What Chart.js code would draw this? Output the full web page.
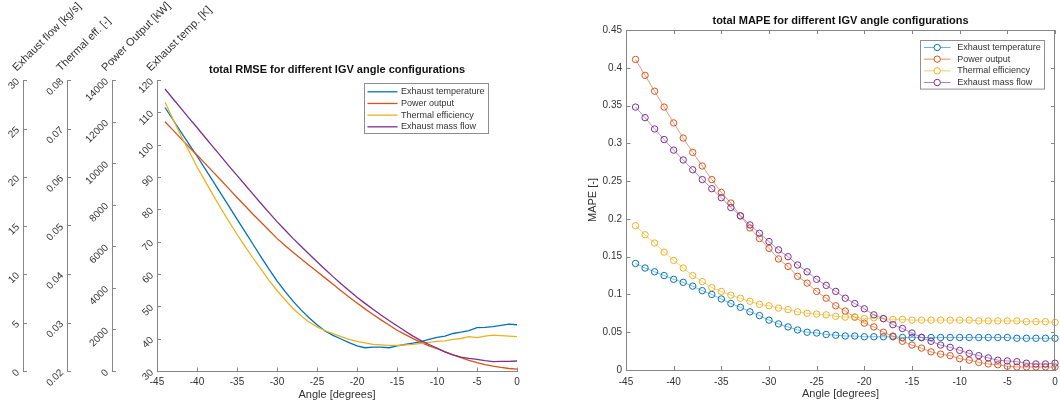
<!DOCTYPE html>
<html>
<head>
<meta charset="utf-8">
<title>IGV angle configurations - RMSE and MAPE</title>
<script src="https://cdn.jsdelivr.net/npm/chart.js@4.4.1/dist/chart.umd.min.js"></script>
<style>
  html, body { margin: 0; padding: 0; background: #ffffff; }
  #wrap { position: relative; width: 1060px; height: 405px; overflow: hidden; }
  #leftPanel { position: absolute; left: 0; top: 0; width: 540px; height: 405px; }
  #rightPanel { position: absolute; left: 540px; top: 0; width: 520px; height: 405px; }
</style>
</head>
<body>
<div id="wrap">
  <div id="leftPanel"><canvas id="rmseChart"></canvas></div>
  <div id="rightPanel"><canvas id="mapeChart"></canvas></div>
</div>
<script>
// IGV angle settings (degrees)
const angles = [-44, -43, -42, -41, -40, -39, -38, -37, -36, -35, -34, -33, -32, -31, -30,
                -29, -28, -27, -26, -25, -24, -23, -22, -21, -20, -19, -18, -17, -16, -15,
                -14, -13, -12, -11, -10, -9, -8, -7, -6, -5, -4, -3, -2, -1, 0];

const seriesNames = ['Exhaust temperature', 'Power output', 'Thermal efficiency', 'Exhaust mass flow'];
const seriesColors = ['#0072BD', '#D95319', '#EDB120', '#7E2F8E'];

// total RMSE, each in its own unit
const rmseExhaustTemp = [111.5, 107.7, 103.9, 100.2, 96.5, 92.6, 88.7, 84.8, 80.9, 77.0, 73.1, 69.2, 65.3, 61.5, 57.9,
                         54.6, 51.6, 48.9, 46.5, 44.3, 42.4, 41.0, 39.9, 38.8, 37.8, 37.2, 37.4, 37.4, 37.2, 37.8,
                         38.2, 38.6, 39.1, 39.8, 40.4, 40.8, 41.6, 42.0, 42.5, 43.4, 43.5, 43.7, 44.1, 44.5, 44.3];   // K
const rmsePower = [11990, 11590, 11180, 10780, 10390, 9990, 9580, 9180, 8760, 8350, 7950, 7540, 7160, 6770, 6380,
                   6040, 5710, 5400, 5090, 4790, 4480, 4170, 3860, 3560, 3270, 2990, 2720, 2460, 2210, 1960,
                   1760, 1560, 1380, 1210, 1070, 920, 780, 640, 510, 400, 310, 230, 170, 120, 90];                  // kW
const rmseThermalEff = [0.0754, 0.0719, 0.0685, 0.0653, 0.0621, 0.0592, 0.0563, 0.0535, 0.0508, 0.0482, 0.0457, 0.0433, 0.0410, 0.0387, 0.0366,
                        0.0347, 0.0329, 0.0314, 0.0301, 0.0291, 0.0283, 0.0277, 0.0271, 0.0265, 0.0261, 0.0258, 0.0255, 0.0254, 0.0253, 0.0253,
                        0.0254, 0.0255, 0.0257, 0.0259, 0.0261, 0.0262, 0.0265, 0.0267, 0.0271, 0.0269, 0.0272, 0.0274, 0.0273, 0.0272, 0.0271]; // -
const rmseMassFlow = [29.07, 28.07, 27.07, 26.07, 25.10, 24.10, 23.10, 22.13, 21.13, 20.17, 19.20, 18.23, 17.27, 16.33, 15.40,
                      14.53, 13.67, 12.87, 12.07, 11.27, 10.50, 9.73, 9.00, 8.30, 7.60, 6.97, 6.37, 5.77, 5.20, 4.67,
                      4.13, 3.60, 3.13, 2.73, 2.37, 1.97, 1.67, 1.43, 1.30, 1.20, 1.07, 0.97, 1.00, 1.00, 1.03];     // kg/s

// total MAPE
const mapeExhaustTemp = [0.141, 0.135, 0.130, 0.125, 0.120, 0.116, 0.111, 0.105, 0.100, 0.094, 0.088, 0.083, 0.077, 0.072, 0.066,
                         0.061, 0.057, 0.053, 0.050, 0.049, 0.047, 0.046, 0.045, 0.045, 0.044, 0.044, 0.044, 0.044, 0.043, 0.043,
                         0.043, 0.043, 0.043, 0.043, 0.043, 0.043, 0.043, 0.043, 0.043, 0.043, 0.042, 0.042, 0.042, 0.042, 0.042];
const mapePower = [0.411, 0.390, 0.369, 0.348, 0.327, 0.307, 0.288, 0.270, 0.252, 0.235, 0.221, 0.204, 0.188, 0.174, 0.161,
                   0.147, 0.137, 0.124, 0.115, 0.104, 0.095, 0.085, 0.078, 0.070, 0.062, 0.057, 0.050, 0.045, 0.038, 0.033,
                   0.029, 0.024, 0.021, 0.019, 0.015, 0.013, 0.010, 0.008, 0.007, 0.005, 0.004, 0.004, 0.004, 0.004, 0.004];
const mapeThermalEff = [0.191, 0.179, 0.168, 0.156, 0.145, 0.135, 0.125, 0.117, 0.109, 0.104, 0.099, 0.095, 0.091, 0.087, 0.085,
                        0.082, 0.080, 0.077, 0.075, 0.074, 0.073, 0.071, 0.070, 0.070, 0.068, 0.069, 0.068, 0.067, 0.067, 0.066,
                        0.066, 0.066, 0.066, 0.066, 0.066, 0.066, 0.065, 0.065, 0.065, 0.065, 0.065, 0.064, 0.064, 0.064, 0.063];
const mapeMassFlow = [0.348, 0.334, 0.319, 0.305, 0.291, 0.278, 0.265, 0.252, 0.240, 0.228, 0.215, 0.204, 0.192, 0.181, 0.170,
                      0.159, 0.150, 0.139, 0.130, 0.120, 0.112, 0.104, 0.095, 0.088, 0.081, 0.073, 0.068, 0.060, 0.055, 0.049,
                      0.043, 0.038, 0.033, 0.030, 0.026, 0.022, 0.019, 0.016, 0.013, 0.012, 0.011, 0.009, 0.008, 0.008, 0.009];

// tick values
const angleTicks = [-45, -40, -35, -30, -25, -20, -15, -10, -5, 0];
const tempTicks = [30, 40, 50, 60, 70, 80, 90, 100, 110, 120];
const powerTicks = [0, 2000, 4000, 6000, 8000, 10000, 12000, 14000];
const effTicks = [0.02, 0.03, 0.04, 0.05, 0.06, 0.07, 0.08];
const flowTicks = [0, 5, 10, 15, 20, 25, 30];
const mapeTicks = [0, 0.05, 0.1, 0.15, 0.2, 0.25, 0.3, 0.35, 0.4, 0.45];

const FONT = '"Liberation Sans", Helvetica, Arial, sans-serif';
const TEXT = '#333333';
const AXIS = '#868686';

// short tick marks pointing into the plot, plus optional full frame
const inwardTicks = {
  id: 'inwardTicks',
  afterDatasetsDraw(chart, args, o) {
    const { ctx, chartArea: a } = chart;
    const L = o.length;
    ctx.save();
    ctx.strokeStyle = AXIS;
    ctx.lineWidth = 1;
    ctx.beginPath();
    Object.values(chart.scales).forEach(s => {
      s.ticks.forEach(t => {
        const p = Math.round(s.getPixelForValue(t.value)) + 0.5;
        if (s.isHorizontal()) {
          ctx.moveTo(p, a.bottom); ctx.lineTo(p, a.bottom - L);
          if (o.frame) { ctx.moveTo(p, a.top); ctx.lineTo(p, a.top + L); }
        } else {
          const x = Math.round(s.right) + 0.5;
          ctx.moveTo(x, p); ctx.lineTo(x + L, p);
          if (o.frame) { ctx.moveTo(a.right, p); ctx.lineTo(a.right - L, p); }
        }
      });
    });
    if (o.frame) {
      const t = Math.round(a.top) + 0.5, r = Math.round(a.right) - 0.5;
      ctx.moveTo(a.left, t); ctx.lineTo(r, t); ctx.lineTo(r, a.bottom);
    }
    ctx.stroke();
    ctx.restore();
  }
};

// boxed legend placed in the upper right of the plot area
const panelLegend = {
  id: 'panelLegend',
  afterDraw(chart, args, o) {
    const { ctx, chartArea: a } = chart;
    const x0 = Math.round(a.right - o.right - o.width) + 0.5;
    const y0 = Math.round(a.top + o.top) + 0.5;
    ctx.save();
    ctx.fillStyle = '#ffffff';
    ctx.fillRect(x0, y0, o.width, o.height);
    ctx.strokeStyle = '#8f8f8f';
    ctx.lineWidth = 1;
    ctx.strokeRect(x0, y0, o.width, o.height);
    ctx.font = '9px ' + FONT;
    ctx.textBaseline = 'middle';
    ctx.textAlign = 'left';
    chart.data.datasets.forEach((ds, i) => {
      const y = y0 + o.firstRow + i * o.rowGap;
      ctx.strokeStyle = ds.borderColor;
      ctx.lineWidth = o.lineWidth;
      ctx.beginPath();
      ctx.moveTo(x0 + o.lineFrom, y);
      ctx.lineTo(x0 + o.lineTo, y);
      ctx.stroke();
      if (o.marker) {
        const cx = x0 + (o.lineFrom + o.lineTo) / 2;
        ctx.fillStyle = '#ffffff';
        ctx.beginPath();
        ctx.arc(cx, y, 3.2, 0, Math.PI * 2);
        ctx.fill();
        ctx.strokeStyle = ds.pointBorderColor;
        ctx.lineWidth = 1;
        ctx.stroke();
      }
      ctx.fillStyle = TEXT;
      ctx.fillText(ds.label, x0 + o.textX, y);
    });
    ctx.restore();
  }
};

// slanted names above each stacked y axis
const slantedAxisNames = {
  id: 'slantedAxisNames',
  afterDraw(chart) {
    const { ctx, chartArea: a } = chart;
    ctx.save();
    ctx.font = '11px ' + FONT;
    ctx.fillStyle = TEXT;
    ctx.textAlign = 'left';
    ctx.textBaseline = 'alphabetic';
    Object.values(chart.scales).forEach(s => {
      if (s.isHorizontal()) return;
      ctx.save();
      ctx.translate(s.right - 6.3, a.top - 8.3);
      ctx.rotate(-Math.PI / 4);
      ctx.fillText(s.options.title.text, 0, 0);
      ctx.restore();
    });
    ctx.restore();
  }
};

function pts(values) {
  return angles.map((a, i) => ({ x: a, y: values[i] }));
}

function stackedAxis(weight, width, min, max, tickVals, fmt, name) {
  return {
    type: 'linear', position: 'left', weight, min, max,
    afterBuildTicks: s => { s.ticks = tickVals.map(v => ({ value: v })); },
    afterFit: s => { s.width = width; },
    grid: { drawOnChartArea: false, drawTicks: false },
    border: { display: true, color: AXIS, width: 1 },
    ticks: { minRotation: 45, maxRotation: 45, padding: 5, color: TEXT,
             font: { family: FONT, size: 10 }, callback: fmt },
    title: { display: false, text: name }
  };
}

function angleAxis(height, labelPad, titlePad) {
  return {
    type: 'linear', position: 'bottom', min: -45, max: 0,
    afterBuildTicks: s => { s.ticks = angleTicks.map(v => ({ value: v })); },
    afterFit: s => { s.height = height; s.paddingLeft = 0; s.paddingRight = 0; },
    grid: { drawOnChartArea: false, drawTicks: false },
    border: { display: true, color: AXIS, width: 1 },
    ticks: { minRotation: 0, maxRotation: 0, padding: labelPad, color: TEXT,
             font: { family: FONT, size: 10 }, callback: v => String(v) },
    title: { display: true, text: 'Angle [degrees]', color: TEXT,
             font: { family: FONT, size: 11 }, padding: { top: 0, bottom: titlePad } }
  };
}

Chart.defaults.font.family = FONT;

// ---- total RMSE: one line per quantity, each on its own stacked axis ----
const rmseSeries = [rmseExhaustTemp, rmsePower, rmseThermalEff, rmseMassFlow];
const rmseAxisIds = ['yTemp', 'yPower', 'yEff', 'yFlow'];

new Chart(document.getElementById('rmseChart'), {
  type: 'line',
  data: {
    datasets: rmseSeries.map((vals, i) => ({
      label: seriesNames[i],
      data: pts(vals),
      yAxisID: rmseAxisIds[i],
      borderColor: seriesColors[i],
      borderWidth: 1.3,
      pointRadius: 0,
      tension: 0,
      order: 3 - i
    }))
  },
  options: {
    responsive: true, maintainAspectRatio: false, animation: false, devicePixelRatio: 1,
    layout: { padding: { left: 0, right: 23, top: 0, bottom: 0 } },
    plugins: {
      legend: { display: false },
      tooltip: { enabled: false },
      title: { display: true, text: 'total RMSE for different IGV angle configurations',
               fullSize: false, color: '#111111',
               font: { family: FONT, size: 11, weight: 'bold' },
               padding: { top: 63.8, bottom: 3 } },
      inwardTicks: { length: 3.5, frame: false },
      panelLegend: { right: 29, top: 3, width: 124, height: 50, firstRow: 8.3, rowGap: 11.67,
                     lineFrom: 3, lineTo: 33, textX: 36.5, lineWidth: 1.3, marker: false }
    },
    scales: {
      x: angleAxis(34, 5, 3.4),
      yTemp: stackedAxis(0, 45, 30, 120, tempTicks, v => String(v), 'Exhaust temp. [K]'),
      yPower: stackedAxis(1, 45, 0, 14000, powerTicks, v => String(v), 'Power Output [kW]'),
      yEff: stackedAxis(2, 44, 0.02, 0.08, effTicks, v => v.toFixed(2), 'Thermal eff. [-]'),
      yFlow: stackedAxis(3, 23, 0, 30, flowTicks, v => String(v), 'Exhaust flow [kg/s]')
    }
  },
  plugins: [inwardTicks, panelLegend, slantedAxisNames]
});

// ---- total MAPE: markers joined by thin lines ----
const mapeSeries = [mapeExhaustTemp, mapePower, mapeThermalEff, mapeMassFlow];
const lineTints = ['rgba(0,114,189,0.55)', 'rgba(217,83,25,0.65)', 'rgba(237,177,32,0.65)', 'rgba(126,47,142,0.6)'];

new Chart(document.getElementById('mapeChart'), {
  type: 'line',
  data: {
    datasets: mapeSeries.map((vals, i) => ({
      label: seriesNames[i],
      data: pts(vals),
      borderColor: lineTints[i],
      borderWidth: 0.9,
      pointRadius: 3.2,
      pointBorderWidth: 1,
      pointBorderColor: seriesColors[i],
      pointBackgroundColor: 'rgba(255,255,255,0)',
      tension: 0,
      clip: 8,
      order: 3 - i
    }))
  },
  options: {
    responsive: true, maintainAspectRatio: false, animation: false, devicePixelRatio: 1,
    layout: { padding: { left: 0, right: 2, top: 0, bottom: 0 } },
    plugins: {
      legend: { display: false },
      tooltip: { enabled: false },
      title: { display: true, text: 'total MAPE for different IGV angle configurations',
               fullSize: false, color: '#111111',
               font: { family: FONT, size: 11, weight: 'bold' },
               padding: { top: 14.6, bottom: 2.2 } },
      inwardTicks: { length: 4, frame: true },
      panelLegend: { right: 10.7, top: 9.7, width: 124, height: 48.6, firstRow: 7, rowGap: 11.67,
                     lineFrom: 3.4, lineTo: 30, textX: 36.7, lineWidth: 1, marker: true }
    },
    scales: {
      x: angleAxis(35, 6, 4.4),
      y: {
        type: 'linear', position: 'left', min: 0, max: 0.45,
        afterBuildTicks: s => { s.ticks = mapeTicks.map(v => ({ value: v })); },
        afterFit: s => { s.width = 86; },
        grid: { drawOnChartArea: false, drawTicks: false },
        border: { display: true, color: AXIS, width: 1 },
        ticks: { padding: 4, color: TEXT, font: { family: FONT, size: 10 },
                 callback: v => String(parseFloat(v.toFixed(2))) },
        title: { display: true, text: 'MAPE [-]', color: TEXT,
                 font: { family: FONT, size: 11 }, padding: { top: 46.4, bottom: 0 } }
      }
    }
  },
  plugins: [inwardTicks, panelLegend]
});
</script>
</body>
</html>
